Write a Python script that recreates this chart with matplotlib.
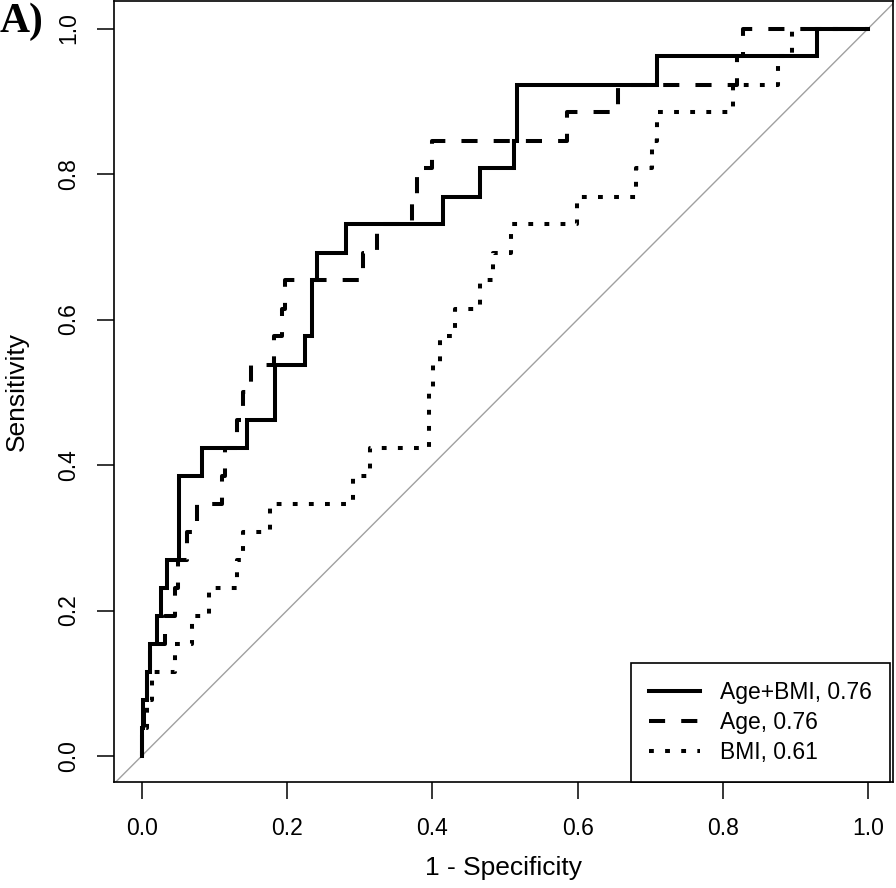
import matplotlib
matplotlib.use("Agg")
import matplotlib.pyplot as plt

# ---- data (ROC corner points: 1 - specificity, sensitivity) ----
labels = ["Age+BMI, 0.76", "Age, 0.76", "BMI, 0.61"]

fpr_agebmi = [0, 0, 0.002, 0.007, 0.011, 0.021, 0.027, 0.035, 0.052, 0.083, 0.145,
              0.184, 0.225, 0.234, 0.241, 0.281, 0.415, 0.466, 0.512, 0.516, 0.709,
              0.929, 1.0]
tpr_agebmi = [0, 0.038, 0.077, 0.115, 0.154, 0.192, 0.231, 0.269, 0.385, 0.423, 0.462,
              0.538, 0.577, 0.654, 0.692, 0.731, 0.769, 0.808, 0.846, 0.923, 0.962,
              1.0, 1.0]

fpr_age = [0, 0, 0.003, 0.007, 0.011, 0.032, 0.046, 0.050, 0.062, 0.076, 0.110, 0.115,
           0.131, 0.139, 0.150, 0.182, 0.193, 0.197, 0.305, 0.324, 0.372, 0.379, 0.399,
           0.585, 0.656, 0.820, 0.828, 1.0]
tpr_age = [0, 0.038, 0.077, 0.115, 0.154, 0.192, 0.231, 0.269, 0.308, 0.346, 0.385, 0.423,
           0.462, 0.5, 0.538, 0.577, 0.615, 0.654, 0.692, 0.731, 0.769, 0.808, 0.846,
           0.885, 0.923, 0.962, 1.0, 1.0]

fpr_bmi = [0, 0, 0.007, 0.014, 0.046, 0.069, 0.092, 0.131, 0.140, 0.177, 0.291, 0.314,
           0.395, 0.401, 0.411, 0.431, 0.466, 0.484, 0.509, 0.599, 0.681, 0.702, 0.709,
           0.814, 0.876, 0.895, 1.0]
tpr_bmi = [0, 0.038, 0.077, 0.115, 0.154, 0.192, 0.231, 0.269, 0.308, 0.346, 0.385, 0.423,
           0.5, 0.538, 0.577, 0.615, 0.654, 0.692, 0.731, 0.769, 0.808, 0.846, 0.885,
           0.923, 0.962, 1.0, 1.0]

ticks = [0.0, 0.2, 0.4, 0.6, 0.8, 1.0]
tick_labels = ["0.0", "0.2", "0.4", "0.6", "0.8", "1.0"]

# ---- figure ----
W, H = 896, 888
fig = plt.figure(figsize=(W / 100, H / 100), dpi=100)
plt.rcParams['font.family'] = ['Liberation Sans', 'DejaVu Sans']

ax_l, ax_r, ax_t, ax_b = 114, 893, 1, 782
ax = fig.add_axes([ax_l / W, (H - ax_b) / H, (ax_r - ax_l) / W, (ax_b - ax_t) / H])

px_per_x = 726.5
x0_px = 141.7
px_per_y = 727.5
y0_px = 756
ax.set_xlim((ax_l - x0_px) / px_per_x, (ax_r - x0_px) / px_per_x)
ax.set_ylim(-(ax_b - y0_px) / px_per_y, (y0_px - ax_t) / px_per_y)

ax.axline((0, 0), slope=1, color="#a0a0a0", lw=1.0, zorder=1)

lw = 2.9
ax.plot(fpr_agebmi, tpr_agebmi, drawstyle="steps-post", color="black", lw=lw,
        solid_joinstyle="miter", label=labels[0], zorder=3)
ax.plot(fpr_age, tpr_age, drawstyle="steps-post", color="black", lw=lw,
        linestyle=(0, (4, 4)), dash_capstyle="butt", label=labels[1], zorder=3)
ax.plot(fpr_bmi, tpr_bmi, drawstyle="steps-post", color="black", lw=lw,
        linestyle=(0, (1.2, 2.8)), dash_capstyle="butt", label=labels[2], zorder=3)

ax.set_xticks(ticks)
ax.set_xticklabels(tick_labels)
ax.set_yticks(ticks)
ax.set_yticklabels(tick_labels, rotation=90, va="center")
ax.tick_params(axis="both", direction="out", length=12.2, width=1.1,
               labelsize=16.5, colors="black")
ax.tick_params(axis="x", pad=13)
ax.tick_params(axis="y", pad=12)
for s in ax.spines.values():
    s.set_linewidth(1.2)
    s.set_color("black")

ax.set_xlabel("1 - Specificity", fontsize=19)
ax.set_ylabel("Sensitivity", fontsize=19)
ax.xaxis.set_label_coords(0.5, -(856 - ax_b) / (ax_b - ax_t))
ax.yaxis.set_label_coords(-(114 - 29) / (ax_r - ax_l), 0.5)

leg = ax.legend(loc="lower right", bbox_to_anchor=((890 - ax_l) / (ax_r - ax_l), 0.0),
                borderaxespad=0, fontsize=16.5, handlelength=2.2, handletextpad=0.87,
                borderpad=0.8, labelspacing=0.3, fancybox=False, framealpha=1,
                edgecolor="black")
leg.get_frame().set_linewidth(1.2)

fig.text(0.0, 1 - 3 / H, "A)", family="Liberation Serif", fontweight="bold",
         fontsize=30, ha="left", va="top")

fig.savefig("out.png", dpi=100)
